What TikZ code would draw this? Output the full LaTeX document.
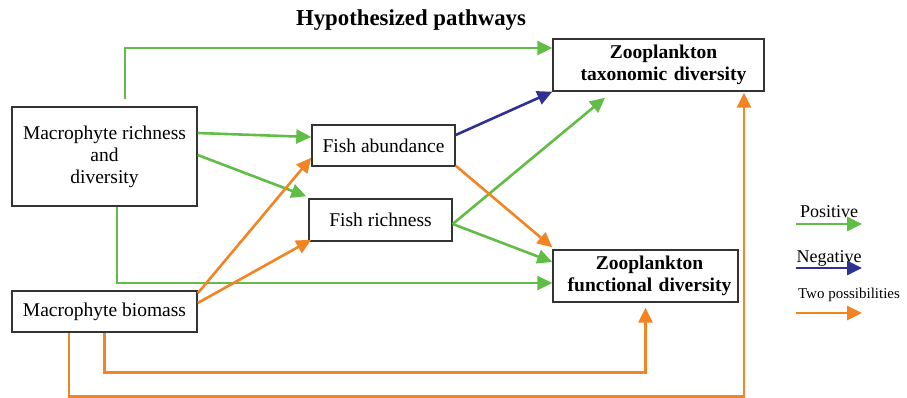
\documentclass[tikz,border=0pt]{standalone}
\usepackage{fontspec}
\setmainfont{Liberation Serif}
\usetikzlibrary{arrows.meta}
\definecolor{pgreen}{RGB}{98,189,70}
\definecolor{porange}{RGB}{242,132,35}
\definecolor{pblue}{RGB}{46,49,146}
\definecolor{boxline}{RGB}{51,51,51}
\tikzset{
  box/.style={draw=boxline,line width=1.4pt,inner sep=0pt,align=center,font=\fontsize{19.5}{22}\selectfont},
  bbox/.style={box,font=\fontsize{19.5}{22}\selectfont\bfseries},
  conn/.style={line width=2.6pt,-{Triangle[length=15pt,width=14pt]}},
  posarrow/.style={conn,draw=pgreen},
  negarrow/.style={conn,draw=pblue},
  twoarrow/.style={conn,draw=porange},
}
\begin{document}
\begin{tikzpicture}[x=1pt,y=-1pt]
\useasboundingbox (0,0) rectangle (907,397);
\node[font=\fontsize{22.8}{24}\selectfont\bfseries] (title) at (411,20) {Hypothesized pathways};
\node[box,minimum width=185pt,minimum height=99pt] (MRD) at (104.5,156.5) {Macrophyte richness\\and\\diversity};
\node[box,minimum width=185pt,minimum height=41pt] (MB) at (104.5,311.5) {Macrophyte biomass};
\node[box,minimum width=143pt,minimum height=41pt] (FA) at (383.5,145.5) {Fish abundance};
\node[box,minimum width=143pt,minimum height=42pt] (FR) at (380.5,220) {Fish richness};
\node[bbox,minimum width=211pt,minimum height=52pt,text width=205pt] (ZT) at (658.5,65) {\hspace*{10pt}Zooplankton\\\hspace*{10pt}taxonomic diversity};
\node[bbox,minimum width=185pt,minimum height=52pt,text width=180pt] (ZF) at (645.5,276) {\hspace*{8pt}Zooplankton\\\hspace*{8pt}functional diversity};
% green
\draw[posarrow] ([xshift=20.5pt,yshift=7pt]MRD.north) |- ([yshift=17pt]ZT.west);
\draw[posarrow] ([yshift=23.5pt]MRD.east) -- ([yshift=8.5pt]FA.west);
\draw[posarrow] ([yshift=1.5pt]MRD.east) -- ([xshift=-2pt,yshift=2pt]FR.north west);
\draw[posarrow] ([xshift=12.5pt]MRD.south) |- ([yshift=-7pt]ZF.west);
\draw[posarrow] ([yshift=-4pt]FR.east) -- ([xshift=-53.5pt,yshift=-6pt]ZT.south);
\draw[posarrow] ([yshift=-4pt]FR.east) -- ([yshift=14pt]ZF.west);
% blue
\draw[negarrow] ([yshift=10.5pt]FA.east) -- (ZT.south west);
% orange
\draw[twoarrow] ([yshift=-3pt]MB.north east) -- ([yshift=9pt]FA.south west);
\draw[twoarrow] ([yshift=8.5pt]MB.east) -- ([xshift=3pt,yshift=2pt]FR.south west);
\draw[twoarrow] ([yshift=1pt]FA.south east) -- ([yshift=2pt]ZF.north west);
\draw[twoarrow] (MB.south) -- ++(0,40) -| ([yshift=-5pt]ZF.south);
\draw[twoarrow] ([xshift=-35.5pt]MB.south) -- ++(0,63.5) -| ([xshift=85.5pt,yshift=-1pt]ZT.south);
% legend
\node[font=\fontsize{18}{20}\selectfont] (lpos) at (829,212) {Positive};
\node[font=\fontsize{18}{20}\selectfont] (lneg) at (829,258) {Negative};
\node[font=\fontsize{15}{17}\selectfont] (ltwo) at (849,295) {Two possibilities};
\coordinate (p1) at (796,224); \coordinate (p2) at (862,224);
\coordinate (n1) at (796,268); \coordinate (n2) at (862,268);
\coordinate (t1) at (796,313); \coordinate (t2) at (862,313);
\draw[posarrow] (p1) -- (p2);
\draw[negarrow] (n1) -- (n2);
\draw[twoarrow] (t1) -- (t2);
\end{tikzpicture}
\end{document}
